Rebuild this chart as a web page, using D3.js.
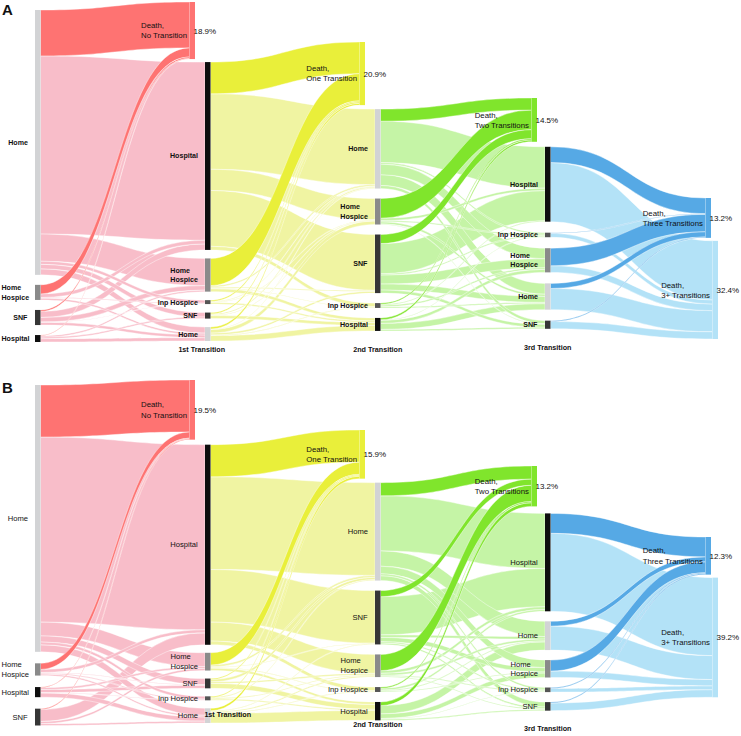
<!DOCTYPE html>
<html>
<head>
<meta charset="utf-8">
<script src="https://cdn.jsdelivr.net/npm/d3@7"></script>
<style>
  body { margin: 0; background: #fff; }
  svg { display: block; font-family: "Liberation Sans", Arial, sans-serif; }
</style>
</head>
<body>
<div id="chart"></div>
<script>
// death nodes, one per stage (D4 = 3+ transitions)
var deathKeys = ["D0", "D1", "D2", "D3", "D4"];
var deathLabels = [
    ["Death,", "No Transition"],
    ["Death,", "One Transition"],
    ["Death,", "Two Transitions"],
    ["Death,", "Three Transitions"],
    ["Death,", "3+ Transitions"]
];
var deathPctA = ["18.9%", "20.9%", "14.5%", "13.2%", "32.4%"];
var deathPctB = ["19.5%", "15.9%", "13.2%", "12.3%", "39.2%"];
var transitionTitles = ["1st Transition", "2nd Transition", "3rd Transition"];

// node order in each column, top to bottom
var orderA = [
    ["Home", "Home Hospice", "SNF", "Hospital"],
    ["D0", "Hospital", "Home Hospice", "Inp Hospice", "SNF", "Home"],
    ["D1", "Home", "Home Hospice", "SNF", "Inp Hospice", "Hospital"],
    ["D2", "Hospital", "Inp Hospice", "Home Hospice", "Home", "SNF"],
    ["D3", "D4"]
];
var orderB = [
    ["Home", "Home Hospice", "Hospital", "SNF"],
    ["D0", "Hospital", "Home Hospice", "SNF", "Inp Hospice", "Home"],
    ["D1", "Home", "SNF", "Home Hospice", "Inp Hospice", "Hospital"],
    ["D2", "Hospital", "Home", "Home Hospice", "Inp Hospice", "SNF"],
    ["D3", "D4"]
];

// [stage, from, to, % of cohort]
var flowsA = [
    [0, "Home", "D0", 15.2], [0, "Home", "Hospital", 59.0], [0, "Home", "Home Hospice", 9.0],
    [0, "Home", "Inp Hospice", 1.0], [0, "Home", "SNF", 1.5], [0, "Home", "Home", 2.0],
    [0, "Home Hospice", "D0", 3.0], [0, "Home Hospice", "Hospital", 1.2], [0, "Home Hospice", "Inp Hospice", 0.2],
    [0, "Home Hospice", "Home", 0.6],
    [0, "SNF", "D0", 0.5], [0, "SNF", "Hospital", 2.0], [0, "SNF", "Home Hospice", 1.5],
    [0, "SNF", "Inp Hospice", 0.1], [0, "SNF", "Home", 0.9],
    [0, "Hospital", "D0", 0.2], [0, "Hospital", "Home Hospice", 0.5], [0, "Hospital", "SNF", 0.5],
    [0, "Hospital", "Home", 1.1],

    [1, "Hospital", "D1", 10.5], [1, "Hospital", "Home", 25.0], [1, "Hospital", "Home Hospice", 7.0],
    [1, "Hospital", "SNF", 18.5], [1, "Hospital", "Inp Hospice", 1.2],
    [1, "Home Hospice", "D1", 9.0], [1, "Home Hospice", "Hospital", 1.0], [1, "Home Hospice", "Home", 0.5],
    [1, "Home Hospice", "SNF", 0.3], [1, "Home Hospice", "Inp Hospice", 0.2],
    [1, "Inp Hospice", "D1", 0.4], [1, "Inp Hospice", "Hospital", 0.5], [1, "Inp Hospice", "Home", 0.2],
    [1, "Inp Hospice", "Home Hospice", 0.2],
    [1, "SNF", "D1", 0.4], [1, "SNF", "Hospital", 1.0], [1, "SNF", "Home", 0.4], [1, "SNF", "Home Hospice", 0.2],
    [1, "Home", "D1", 0.6], [1, "Home", "Hospital", 1.8], [1, "Home", "Home Hospice", 1.2],
    [1, "Home", "SNF", 0.6], [1, "Home", "Inp Hospice", 0.2], [1, "Home", "Home", 0.2],

    [2, "Home", "D2", 4.0], [2, "Home", "Hospital", 13.7], [2, "Home", "Home Hospice", 3.5],
    [2, "Home", "Inp Hospice", 0.5], [2, "Home", "SNF", 1.0], [2, "Home", "Home", 3.6],
    [2, "Home Hospice", "D2", 6.5], [2, "Home Hospice", "Hospital", 0.8], [2, "Home Hospice", "Inp Hospice", 0.4],
    [2, "Home Hospice", "Home", 0.7], [2, "Home Hospice", "SNF", 0.2],
    [2, "SNF", "D2", 3.0], [2, "SNF", "Hospital", 10.0], [2, "SNF", "Inp Hospice", 0.4],
    [2, "SNF", "Home Hospice", 3.0], [2, "SNF", "Home", 2.0], [2, "SNF", "SNF", 1.0],
    [2, "Inp Hospice", "D2", 0.4], [2, "Inp Hospice", "Hospital", 0.3], [2, "Inp Hospice", "Home Hospice", 0.5],
    [2, "Inp Hospice", "Home", 0.4],
    [2, "Hospital", "D2", 0.6], [2, "Hospital", "Inp Hospice", 0.2], [2, "Hospital", "Home Hospice", 1.0],
    [2, "Hospital", "Home", 2.0], [2, "Hospital", "SNF", 0.5],

    [3, "Hospital", "D3", 5.2], [3, "Hospital", "D4", 19.6],
    [3, "Inp Hospice", "D3", 0.2], [3, "Inp Hospice", "D4", 1.3],
    [3, "Home Hospice", "D3", 5.8], [3, "Home Hospice", "D4", 2.2],
    [3, "Home", "D3", 1.7], [3, "Home", "D4", 7.0],
    [3, "SNF", "D3", 0.3], [3, "SNF", "D4", 2.4]
];

var flowsB = [
    [0, "Home", "D0", 17.0], [0, "Home", "Hospital", 60.5], [0, "Home", "Home Hospice", 4.5],
    [0, "Home", "SNF", 2.0], [0, "Home", "Inp Hospice", 0.9], [0, "Home", "Home", 2.3],
    [0, "Home Hospice", "D0", 2.0], [0, "Home Hospice", "Hospital", 1.0], [0, "Home Hospice", "Inp Hospice", 0.3],
    [0, "Home Hospice", "Home", 0.5], [0, "Home Hospice", "SNF", 0.2],
    [0, "Hospital", "D0", 0.2], [0, "Hospital", "Home Hospice", 0.6], [0, "Hospital", "SNF", 1.0],
    [0, "Hospital", "Inp Hospice", 0.1], [0, "Hospital", "Home", 1.4],
    [0, "SNF", "D0", 0.3], [0, "SNF", "Hospital", 3.9], [0, "SNF", "Home Hospice", 0.7], [0, "SNF", "Home", 0.6],

    [1, "Hospital", "D1", 10.5], [1, "Hospital", "Home", 30.3], [1, "Hospital", "SNF", 17.2],
    [1, "Hospital", "Home Hospice", 6.2], [1, "Hospital", "Inp Hospice", 1.2],
    [1, "Home Hospice", "D1", 4.0], [1, "Home Hospice", "Hospital", 0.8], [1, "Home Hospice", "Home", 0.6],
    [1, "Home Hospice", "SNF", 0.2], [1, "Home Hospice", "Inp Hospice", 0.2],
    [1, "SNF", "D1", 0.3], [1, "SNF", "Hospital", 1.6], [1, "SNF", "Home", 0.8], [1, "SNF", "Home Hospice", 0.5],
    [1, "Inp Hospice", "D1", 0.3], [1, "Inp Hospice", "Hospital", 0.4], [1, "Inp Hospice", "Home", 0.3],
    [1, "Inp Hospice", "Home Hospice", 0.3],
    [1, "Home", "D1", 0.8], [1, "Home", "Hospital", 3.2], [1, "Home", "Home Hospice", 0.4],
    [1, "Home", "SNF", 0.2], [1, "Home", "Inp Hospice", 0.2],

    [2, "Home", "D2", 4.3], [2, "Home", "Hospital", 18.0], [2, "Home", "Home", 5.0],
    [2, "Home", "Home Hospice", 2.5], [2, "Home", "Inp Hospice", 0.6], [2, "Home", "SNF", 1.6],
    [2, "SNF", "D2", 2.0], [2, "SNF", "Hospital", 12.5], [2, "SNF", "Home", 0.8],
    [2, "SNF", "Home Hospice", 1.4], [2, "SNF", "Inp Hospice", 0.4], [2, "SNF", "SNF", 0.5],
    [2, "Home Hospice", "D2", 5.3], [2, "Home Hospice", "Hospital", 0.9], [2, "Home Hospice", "Home", 0.6],
    [2, "Home Hospice", "Inp Hospice", 0.3], [2, "Home Hospice", "SNF", 0.3],
    [2, "Inp Hospice", "D2", 0.4], [2, "Inp Hospice", "Hospital", 0.6], [2, "Inp Hospice", "Home", 0.3],
    [2, "Inp Hospice", "Home Hospice", 0.3],
    [2, "Hospital", "D2", 1.2], [2, "Hospital", "Home", 2.7], [2, "Hospital", "Home Hospice", 1.5],
    [2, "Hospital", "Inp Hospice", 0.2], [2, "Hospital", "SNF", 0.4],

    [3, "Hospital", "D3", 6.5], [3, "Hospital", "D4", 25.5],
    [3, "Home", "D3", 1.6], [3, "Home", "D4", 7.8],
    [3, "Home Hospice", "D3", 3.6], [3, "Home Hospice", "D4", 2.1],
    [3, "Inp Hospice", "D3", 0.3], [3, "Inp Hospice", "D4", 1.2],
    [3, "SNF", "D3", 0.3], [3, "SNF", "D4", 2.5]
];

// ---- styling / layout ----
var width = 741, height = 736, nodeWidth = 5.5;
var stateColor = {
    "Home": "#d2d3d5", "Home Hospice": "#8a8a8a", "Inp Hospice": "#555555",
    "SNF": "#363636", "Hospital": "#0e0e0e"
};
var paleColor = ["#f8bdc9", "#f0f4a2", "#c5f4a6", "#b3e2f7"];
var deathColor = ["#fe7372", "#e9ef3a", "#80e52c", "#56a9e5"];
var deathDx = {D0: -10, D1: -10, D2: -8, D3: -4, D4: 3};

var panels = [
    {letter: "A", top: 0, letterY: 15, order: orderA, flows: flowsA, pct: deathPctA,
     weight: "bold", labelSize: 7.1,
     perPct: 3.02, colTop: [10, 2, 42, 98, 198], gap: [10, 8.5, 10, 11, 3], deathGap: [0, 3, 4, 5, 3],
     titleY: [352, 352, 350], titleDx: [-6, 0, 0]},
    {letter: "B", top: 375, letterY: 18, order: orderB, flows: flowsB, pct: deathPctB,
     weight: "normal", labelSize: 7.6,
     perPct: 3.06, colTop: [10, 5, 55, 91, 162], gap: [11.5, 8, 10, 10, 3], deathGap: [0, 5, 4, 7, 3],
     titleY: [342, 352, 356], titleDx: [20, 0, 0]}
];

var svg = d3.select("#chart").append("svg").attr("width", width).attr("height", height);
var x = d3.scaleLinear().domain([0, 4]).range([35, 715]);

function buildGraph(p, h) {
    var nodes = {}, links = [];
    p.order.forEach(function(col, c) {
        col.forEach(function(name) {
            nodes[c + "|" + name] = {name: name, col: c, death: deathKeys.indexOf(name) >= 0,
                inLinks: [], outLinks: [], inV: 0, outV: 0};
        });
    });
    p.flows.forEach(function(f) {
        var s = nodes[f[0] + "|" + f[1]], t = nodes[(f[0] + 1) + "|" + f[2]];
        var l = {source: s, target: t, value: f[3], stage: f[0]};
        s.outLinks.push(l); t.inLinks.push(l);
        s.outV += f[3]; t.inV += f[3];
        links.push(l);
    });
    p.order.forEach(function(col, c) {
        var y = p.colTop[c];
        col.forEach(function(name) {
            var n = nodes[c + "|" + name];
            n.value = Math.max(n.inV, n.outV);
            n.y0 = y;
            n.y1 = y + h(n.value);
            y = n.y1 + (n.death ? p.deathGap[c] : p.gap[c]);
            if (n.death) { n.x1 = x(c) + deathDx[name]; n.x0 = n.x1 - nodeWidth; }
            else { n.x0 = x(c); n.x1 = n.x0 + nodeWidth; }
        });
    });
    var list = Object.keys(nodes).map(function(k) { return nodes[k]; });
    list.forEach(function(n) {
        n.outLinks.sort(function(a, b) { return a.target.y0 - b.target.y0; });
        var sy = n.y0;
        n.outLinks.forEach(function(l) { l.sy0 = sy; sy += h(l.value); l.sy1 = sy; });
        n.inLinks.sort(function(a, b) { return a.source.y0 - b.source.y0; });
        var ty = n.y0;
        n.inLinks.forEach(function(l) { l.ty0 = ty; ty += h(l.value); l.ty1 = ty; });
    });
    return {nodes: list, links: links};
}

function bandPath(l) {
    var x0 = l.source.x1, x1 = l.target.x0, xm = (x0 + x1) / 2;
    var p = d3.path();
    p.moveTo(x0, l.sy0);
    p.bezierCurveTo(xm, l.sy0, xm, l.ty0, x1, l.ty0);
    p.lineTo(x1, l.ty1);
    p.bezierCurveTo(xm, l.ty1, xm, l.sy1, x0, l.sy1);
    p.closePath();
    return p.toString();
}

function isBright(l) {
    return l.target.death && l.target.name !== "D4";
}

// left-aligned block of lines whose right edge sits at xRight (kept inside the page)
function textBlock(g, lines, xRight, yMid, size, weight) {
    var lineH = size * 1.3;
    var t = g.append("text")
        .attr("font-size", size)
        .attr("font-weight", weight)
        .attr("fill", "#111");
    lines.forEach(function(s, i) {
        t.append("tspan")
            .attr("x", 0)
            .attr("y", yMid - (lines.length - 1) * lineH / 2 + i * lineH + size * 0.35)
            .text(s);
    });
    var w = t.node().getBBox().width;
    t.attr("transform", "translate(" + Math.max(1.5, xRight - w) + ",0)");
}

panels.forEach(function(p) {
    var g = svg.append("g").attr("transform", "translate(0," + p.top + ")");
    var h = d3.scaleLinear().domain([0, 100]).range([0, 100 * p.perPct]);
    var graph = buildGraph(p, h);

    var ordered = graph.links.slice().sort(function(a, b) {
        var ba = isBright(a) ? 1 : 0, bb = isBright(b) ? 1 : 0;
        if (ba !== bb) return ba - bb;
        return b.value - a.value;
    });

    g.append("g").selectAll("path")
        .data(ordered)
        .enter()
        .append("path")
        .attr("d", bandPath)
        .attr("fill", function(d) { return isBright(d) ? deathColor[d.stage] : paleColor[d.stage]; })
        .attr("stroke", "#fff")
        .attr("stroke-width", 0.5)
        .attr("stroke-opacity", 0.85);

    g.append("g").selectAll("rect")
        .data(graph.nodes)
        .enter()
        .append("rect")
        .attr("x", function(d) { return d.x0; })
        .attr("y", function(d) { return d.y0; })
        .attr("width", function(d) { return d.x1 - d.x0; })
        .attr("height", function(d) { return d.y1 - d.y0; })
        .attr("fill", function(d) {
            if (!d.death) return stateColor[d.name];
            if (d.name === "D4") return paleColor[3];
            return deathColor[deathKeys.indexOf(d.name)];
        });

    var lg = g.append("g");
    graph.nodes.forEach(function(n) {
        var mid = (n.y0 + n.y1) / 2;
        if (n.death) {
            var i = deathKeys.indexOf(n.name);
            textBlock(lg, deathLabels[i], n.x1 - 8, mid, 7.8, "normal");
            lg.append("text")
                .attr("x", n.x1 - 1.5)
                .attr("y", mid + 3)
                .attr("font-size", 8)
                .attr("fill", "#111")
                .text(p.pct[i]);
        } else {
            var lines = n.name === "Home Hospice" ? ["Home", "Hospice"] : [n.name];
            textBlock(lg, lines, n.x0 - 7, mid, p.labelSize, p.weight);
        }
    });

    transitionTitles.forEach(function(t, i) {
        g.append("text")
            .attr("x", x(i + 1) + nodeWidth / 2 + p.titleDx[i])
            .attr("y", p.titleY[i])
            .attr("text-anchor", "middle")
            .attr("font-size", 7.2)
            .attr("font-weight", "bold")
            .attr("fill", "#111")
            .text(t);
    });

    g.append("text")
        .attr("x", 2)
        .attr("y", p.letterY)
        .attr("font-size", 15)
        .attr("font-weight", "bold")
        .attr("fill", "#111")
        .text(p.letter);
});
</script>
</body>
</html>
